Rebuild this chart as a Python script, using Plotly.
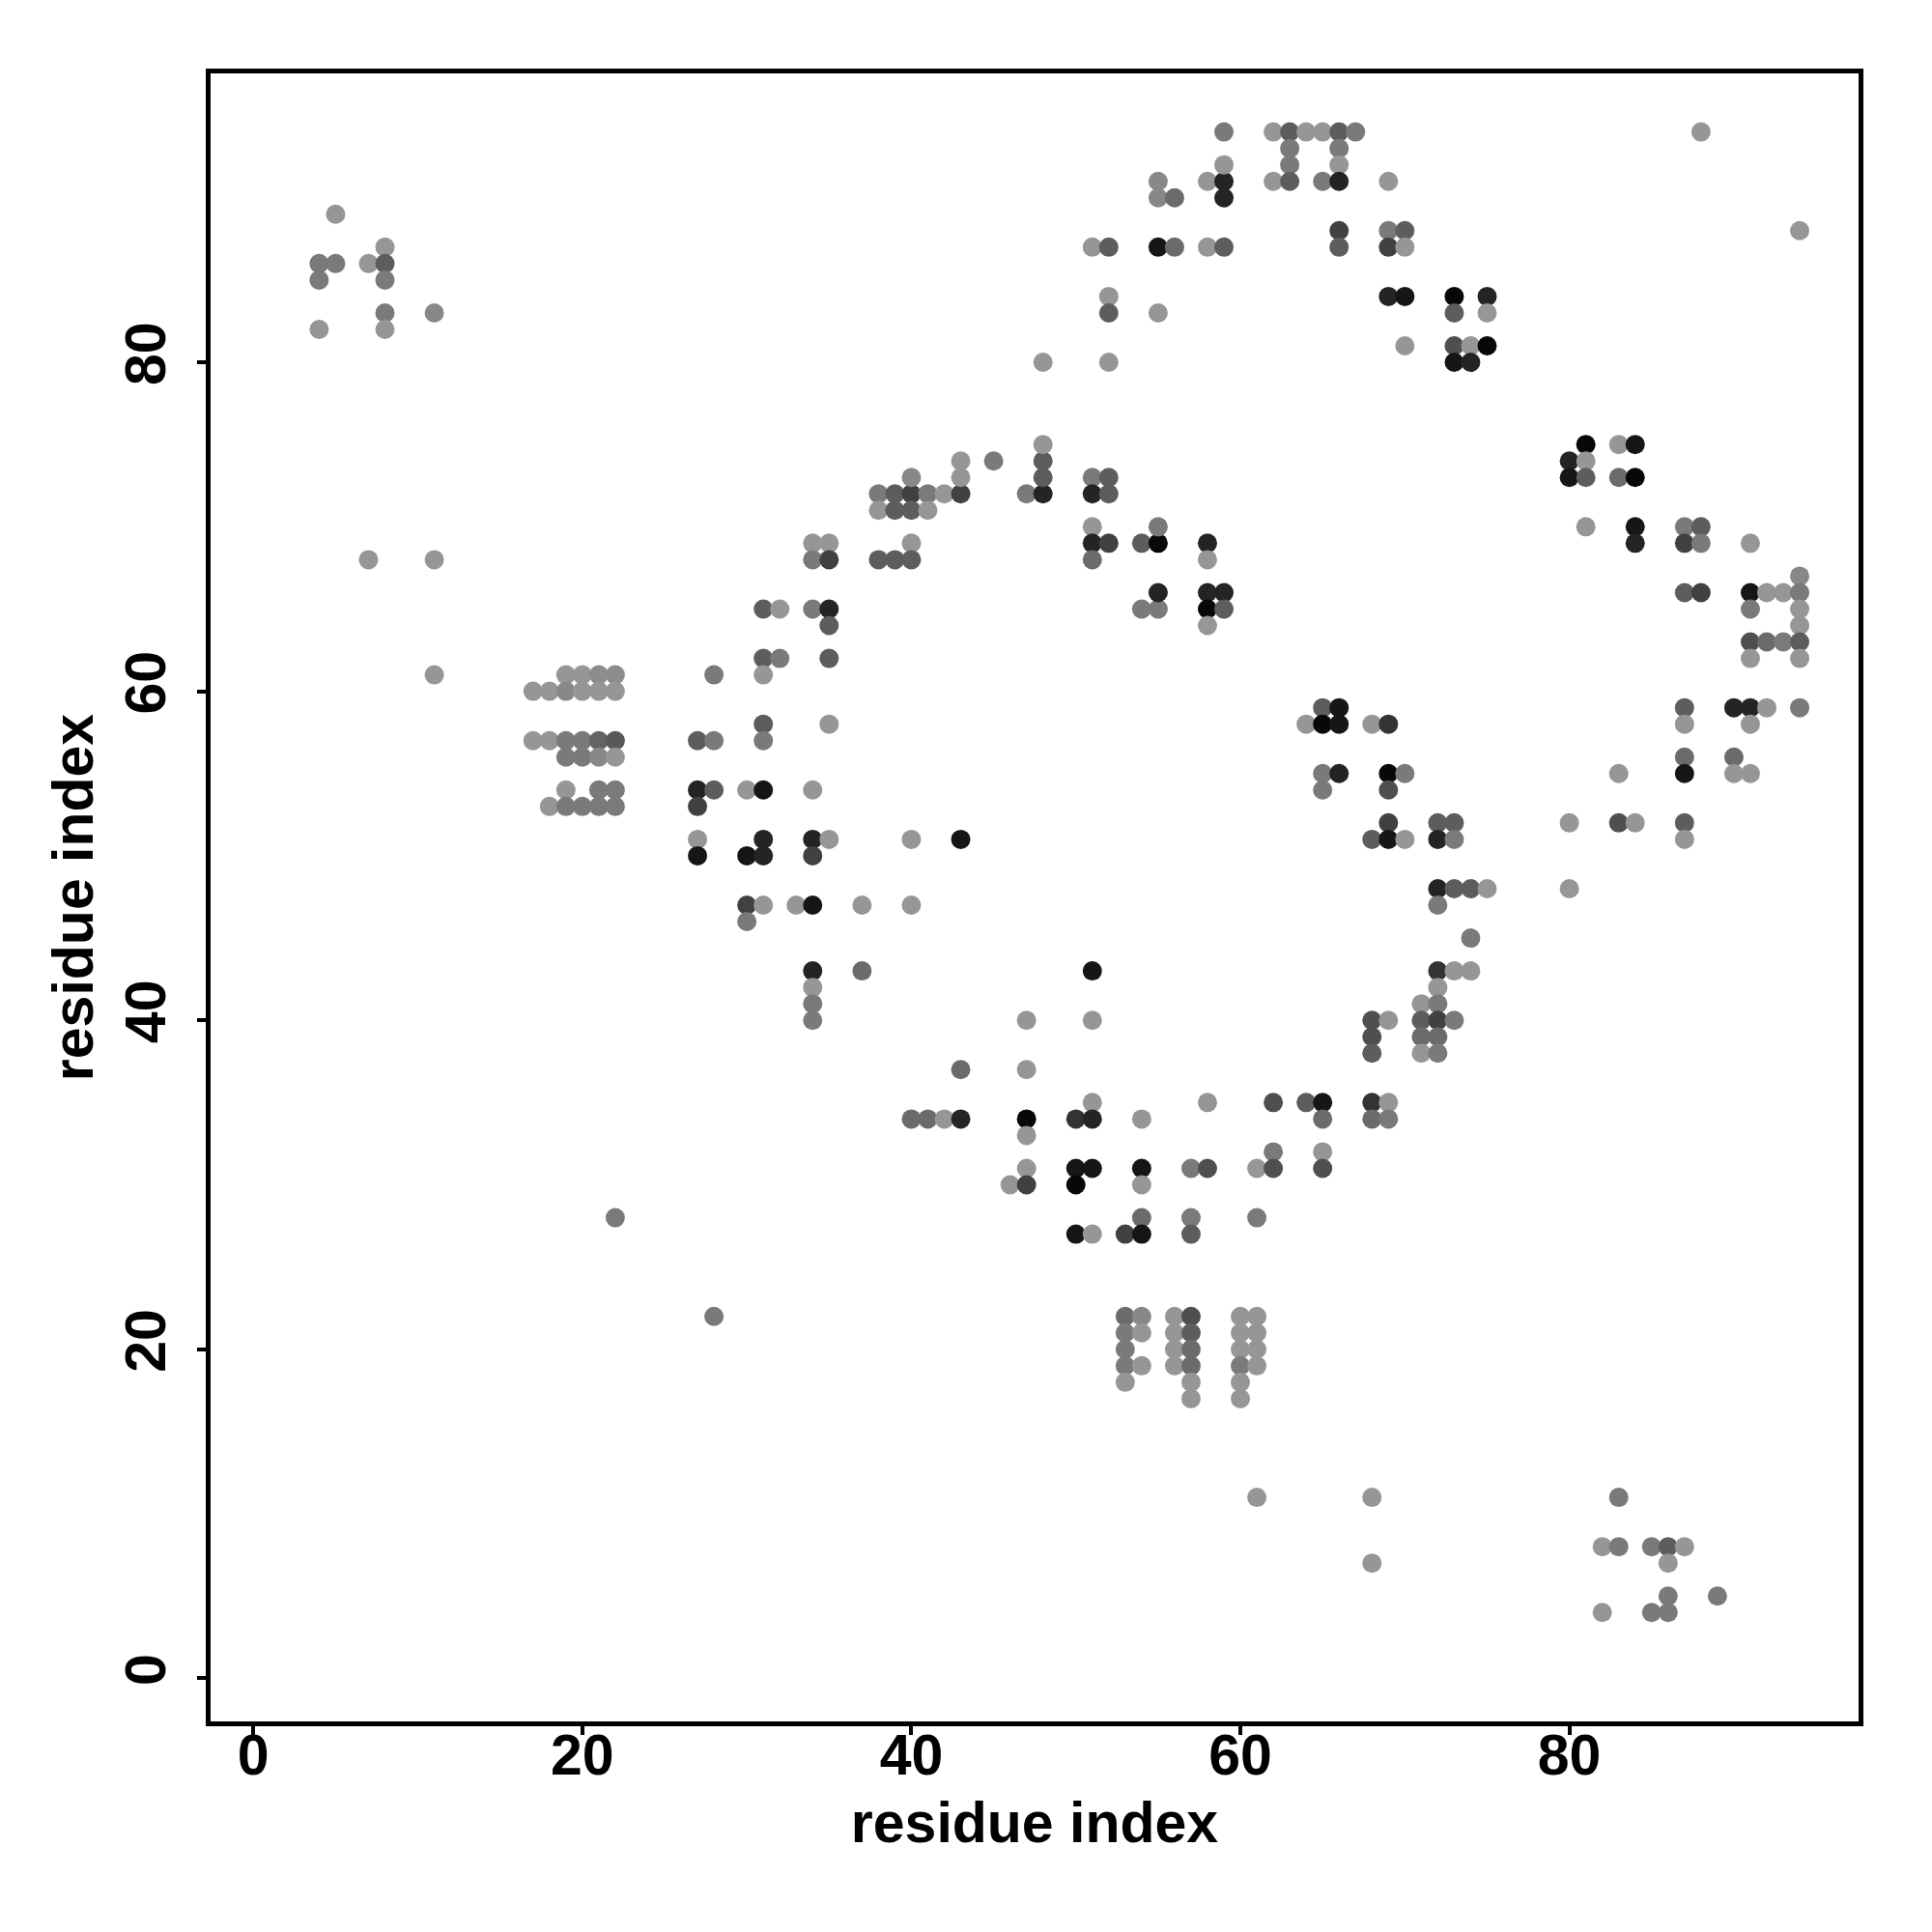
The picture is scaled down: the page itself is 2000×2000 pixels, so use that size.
import plotly.graph_objects as go

# Contact map points: (residue i, residue j, contact strength 1..6)
top_left = [(5,89,1),(8,87,1),(4,86,2),(5,86,2),(7,86,1),(8,86,3),(4,85,2),(8,85,2),
            (8,83,2),(11,83,1.5),(4,82,1),(8,82,1),(7,68,1),(11,68,1),(11,61,1)]

block_17_22 = [(19,61,1),(20,61,1),(21,61,1.3),(22,61,1.3),
               (17,60,1),(18,60,1),(19,60,1.5),(20,60,1),(21,60,1),(22,60,1),
               (17,57,1),(18,57,1),(19,57,2),(20,57,2),(21,57,2.8),(22,57,3.2),
               (19,56,2),(20,56,2),(21,56,1.5),(22,56,1),
               (19,54,1),(21,54,2),(22,54,2),
               (18,53,1),(19,53,2),(20,53,2),(21,53,2),(22,53,2),
               (22,28,2),(28,22,2)]

block_27_37 = [(28,61,2),(27,57,3),(28,57,2),(27,54,5),(28,54,3),(27,53,4),(27,51,1),(27,50,5.5),
               (30,54,1),(31,54,5.5),(30,50,5.5),(31,51,5),(31,50,5),(30,47,4),(30,46,2),(31,47,1),
               (33,47,1),(34,47,5.5),
               (31,65,3),(32,65,1),(31,62,3),(32,62,2),(31,61,1),(31,58,3),(31,57,2),
               (34,69,1),(35,69,1),(34,68,2),(35,68,4),(34,65,2),(35,65,5),(35,64,3),(35,62,3),
               (35,58,1),(34,54,1),(34,51,5),(35,51,1),(34,50,4),(37,47,1),(37,43,2.5),(34,43,5),
               (34,42,1),(34,41,2),(34,40,2)]

block_38_48 = [(38,72,2),(39,72,3),(40,72,4),(41,72,2),(42,72,1),(43,72,4),(47,72,2),(48,72,5),
               (38,71,1),(39,71,3),(40,71,3),(41,71,1),
               (40,73,1.5),(43,73,1),(48,73,3),(43,74,1),(45,74,2),(48,74,3),(48,75,1),
               (40,69,1),(38,68,3),(39,68,3),(40,68,3)]

block_51_59 = [(51,73,2),(52,73,3),(51,72,5),(52,72,3),(51,70,1),(51,69,5),(52,69,4),(51,68,2.5),
               (54,69,3),(55,69,6),(55,70,2),(54,65,2),(55,65,2),(55,66,5),(58,69,5),(58,68,1),
               (58,66,5),(59,66,5),(58,65,6),(59,65,3),(58,64,1)]

upper_mid = [(51,87,1),(52,87,3),(52,84,1),(52,83,3),(55,87,5.5),(56,87,2.5),(58,87,1),(59,87,3),
             (55,83,1),(48,80,1),(52,80,1),(55,91,1.5),(55,90,1.5),(56,90,2.5),(58,91,1),
             (59,91,5),(59,90,5),(59,92,1),(59,94,2)]

top_band = [(62,94,1),(63,94,3),(64,94,1),(65,94,1),(66,94,3),(67,94,2),(63,93,2),(63,92,2),
            (62,91,1),(63,91,3),(66,93,2),(66,92,1),(65,91,2),(66,91,5),(69,91,1),(66,88,4),
            (69,88,2),(70,88,3),(66,87,3),(69,87,4),(70,87,1),(88,94,1),(94,88,1)]

block_69_75 = [(69,84,5),(70,84,5.5),(73,84,6),(75,84,5),(73,83,3),(75,83,1),(70,81,1),
               (73,81,3.5),(74,81,1),(75,81,6),(73,80,5.5),(74,80,5)]

block_80_94_hi = [(81,75,6),(83,75,1),(84,75,5.5),(80,74,5),(81,74,1),(80,73,5.5),(81,73,3),
                  (83,73,2.5),(84,73,6),(81,70,1),(84,70,5.5),(87,70,2),(88,70,3),(91,69,1),
                  (84,69,5),(87,69,4),(88,69,2),(94,67,1.5),(87,66,3),(88,66,4),(91,66,5.5),
                  (92,66,1),(93,66,1),(94,66,2),(91,65,2),(94,65,1),(94,64,1),(91,63,3.5),
                  (92,63,2.5),(93,63,2),(94,63,3),(91,62,1),(94,62,1)]

block_80_94_lo = [(87,59,3),(90,59,5),(91,59,5),(92,59,1),(94,59,2),(87,58,1),(91,58,1),
                  (87,56,2.5),(90,56,2.5),(83,55,1),(87,55,5.5),(90,55,1),(91,55,1),(80,52,1),
                  (83,52,3.5),(84,52,1),(87,52,3),(87,51,1),(80,48,1)]

block_64_75 = [(64,58,1),(65,59,3),(66,59,5.5),(65,58,6),(66,58,5.5),(68,58,1),(69,58,4.5),
               (65,55,2),(66,55,5),(69,55,6),(70,55,2),(65,54,2),(69,54,3.5),
               (69,52,4),(68,51,3),(69,51,5.5),(70,51,1),(72,52,3),(73,52,3),(72,51,5),(73,51,2),
               (72,48,5),(73,48,3),(74,48,3),(75,48,1),(72,47,2),(74,45,2),
               (72,43,4.5),(73,43,1),(74,43,1),(72,42,1),(71,41,1),(72,41,2),
               (68,40,3.5),(69,40,1),(71,40,3),(72,40,4),(73,40,2),
               (68,39,3.5),(71,39,2.5),(72,39,2.5),(68,38,3),(71,38,1),(72,38,2),
               (64,35,3),(65,35,5.5),(68,35,4.5),(69,35,1),(65,34,2.5),(68,34,2.5),(69,34,2),
               (65,32,1),(65,31,3.5)]

block_40_62 = [(40,51,1),(43,51,5.5),(40,47,1),(51,43,5.5),(47,40,1),(51,40,1),(43,37,2.5),
               (47,37,1),(51,35,1),(58,35,1),(62,35,3.5),
               (40,34,2.5),(41,34,2.5),(42,34,1),(43,34,5),(47,34,6),(50,34,4.5),(51,34,5),(54,34,1),
               (47,33,1),(62,32,2),
               (47,31,1),(50,31,5.5),(51,31,5.5),(54,31,5.5),(57,31,2),(58,31,3.5),(61,31,1),(62,31,3.5),
               (46,30,1),(47,30,4),(50,30,6),(54,30,1),
               (54,28,2.5),(57,28,2),(61,28,2),
               (50,27,5.5),(51,27,1),(53,27,4),(54,27,5.5),(57,27,3)]

block_53_61 = [(53,22,2.5),(53,21,2),(53,20,2),(53,19,2),(53,18,1),
               (54,22,1.5),(54,21,1),(54,19,1),
               (56,22,1),(56,21,1),(56,20,1),(56,19,1),
               (57,22,3.5),(57,21,3),(57,20,2.5),(57,19,2.5),(57,18,1),(57,17,1),
               (60,22,1),(60,21,1),(60,20,1),(60,19,2),(60,18,1),(60,17,1),
               (61,22,1),(61,21,1),(61,20,1),(61,19,1),
               (61,11,1),(68,11,1),(68,7,1)]

bottom_right = [(82,4,1),(85,4,2),(86,4,2),(86,5,2),(89,5,2),(82,8,1),(83,8,2),(85,8,2),
                (86,8,3),(87,8,1),(86,7,1),(83,11,2)]

x_ticks = [0, 20, 40, 60, 80]
y_ticks = [0, 20, 40, 60, 80]

clusters = [top_left, block_17_22, block_27_37, block_38_48, block_51_59, upper_mid, top_band,
            block_69_75, block_80_94_hi, block_80_94_lo, block_64_75, block_40_62, block_53_61,
            bottom_right]
pts = [p for c in clusters for p in c]
res_i = [p[0] for p in pts]
res_j = [p[1] for p in pts]
strength = [p[2] for p in pts]

FONT = "Liberation Sans, Arial, Helvetica, sans-serif"

fig = go.Figure(go.Scatter(
    x=res_i, y=res_j, mode="markers",
    marker=dict(size=20, color=strength, cmin=1, cmax=6,
                colorscale=[[0, "rgb(150,150,150)"], [1, "rgb(8,8,8)"]],
                showscale=False, line=dict(width=0)),
    hoverinfo="x+y"))

axis_common = dict(
    showline=True, linecolor="black", linewidth=5, mirror=True,
    ticks="outside", ticklen=9, tickwidth=4, tickcolor="black",
    showgrid=False, zeroline=False,
    tickfont=dict(family=FONT, size=59, color="black", weight="bold"),
)

fig.update_layout(
    width=2000, height=2000,
    margin=dict(l=210, r=84, t=68, b=226),
    plot_bgcolor="white", paper_bgcolor="white",
    showlegend=False,
    font=dict(family=FONT, color="black"),
    xaxis=dict(range=[-2.60, 97.58], tickvals=x_ticks, ticklabelstandoff=-30, **axis_common,
               title=dict(text="residue index", standoff=18,
                          font=dict(family=FONT, size=59, color="black", weight="bold"))),
    yaxis=dict(range=[-2.62, 97.56], tickvals=y_ticks, tickangle=-90, ticklabelstandoff=9,
               **axis_common,
               title=dict(text="residue index", standoff=4,
                          font=dict(family=FONT, size=59, color="black", weight="bold"))),
)

fig.write_html("out.html")
